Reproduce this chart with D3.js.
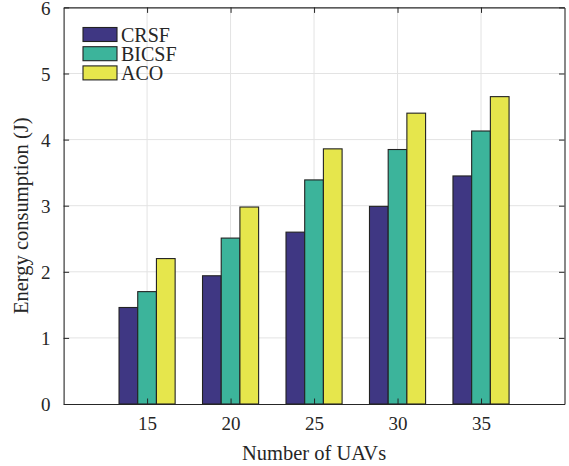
<!DOCTYPE html>
<html>
<head>
<meta charset="utf-8">
<script src="https://cdn.jsdelivr.net/npm/d3@7"></script>
<style>
  html, body { margin: 0; padding: 0; background: #fff; }
  svg { display: block; }
  text { font-family: "Liberation Serif", "Times New Roman", serif; fill: #262626; }
</style>
</head>
<body>
<svg id="chart" width="569" height="466"></svg>
<script>
const categories = [15, 20, 25, 30, 35];
const seriesNames = ["CRSF", "BICSF", "ACO"];
const crsf  = [1.46, 1.94, 2.60, 2.99, 3.45];
const bicsf = [1.70, 2.51, 3.39, 3.85, 4.13];
const aco   = [2.20, 2.98, 3.86, 4.40, 4.65];
const colors = ["#3F3783", "#3CB49B", "#E6E64C"];
const yTicks = [0, 1, 2, 3, 4, 5, 6];
const xTicks = [15, 20, 25, 30, 35];
const xLabel = "Number of UAVs";
const yLabel = "Energy consumption (J)";

const series = [crsf, bicsf, aco];
const svg = d3.select("#chart");
const pLeft = 63.6, pRight = 564.5, pTop = 7.4, pBottom = 404;

const x = d3.scaleLinear().domain([10, 40]).range([pLeft, pRight]);
const y = d3.scaleLinear().domain([0, 6]).range([pBottom, pTop]);
const groupWidth = 3.36; // in x units
const barW = groupWidth / 3;

// grid
const grid = svg.append("g");
grid.selectAll("line.h").data(yTicks.slice(1, -1)).enter().append("line")
  .attr("x1", pLeft).attr("x2", pRight)
  .attr("y1", d => y(d)).attr("y2", d => y(d))
  .attr("stroke", "#E3E3E3").attr("stroke-width", 1);
grid.selectAll("line.v").data(xTicks).enter().append("line")
  .attr("y1", pTop).attr("y2", pBottom)
  .attr("x1", d => x(d)).attr("x2", d => x(d))
  .attr("stroke", "#E3E3E3").attr("stroke-width", 1);

// bars
series.forEach((vals, si) => {
  svg.append("g").selectAll("rect").data(vals).enter().append("rect")
    .attr("x", (d, i) => x(categories[i] - groupWidth / 2 + si * barW))
    .attr("width", x(barW) - x(0))
    .attr("y", d => y(d))
    .attr("height", d => y(0) - y(d))
    .attr("fill", colors[si])
    .attr("stroke", "#222")
    .attr("stroke-width", 1.1);
});

// axes with inward ticks
const axisColor = "#262626";
const tickLen = 5.5;
const gB = svg.append("g").attr("transform", `translate(0,${pBottom})`)
  .call(d3.axisBottom(x).tickValues(xTicks).tickSize(-tickLen).tickPadding(13).tickSizeOuter(0));
const gT = svg.append("g").attr("transform", `translate(0,${pTop})`)
  .call(d3.axisTop(x).tickValues(xTicks).tickSize(-tickLen).tickFormat("").tickSizeOuter(0));
const gL = svg.append("g").attr("transform", `translate(${pLeft},0)`)
  .call(d3.axisLeft(y).tickValues(yTicks).tickFormat(d3.format("d")).tickSize(-tickLen).tickPadding(13).tickSizeOuter(0));
const gR = svg.append("g").attr("transform", `translate(${pRight},0)`)
  .call(d3.axisRight(y).tickValues(yTicks).tickSize(-tickLen).tickFormat("").tickSizeOuter(0));
[gB, gT, gL, gR].forEach(g => {
  g.select(".domain").attr("stroke", axisColor).attr("stroke-width", 1.1);
  g.selectAll(".tick line").attr("stroke", axisColor).attr("stroke-width", 1);
  g.selectAll(".tick text").attr("fill", axisColor)
    .style("font-family", '"Liberation Serif", "Times New Roman", serif')
    .style("font-size", "19px");
});
gB.selectAll(".tick text").attr("dy", "0.71em");
gL.selectAll(".tick text").attr("dy", "0.35em");

// axis labels
svg.append("text")
  .attr("x", (pLeft + pRight) / 2).attr("y", 460)
  .attr("text-anchor", "middle")
  .style("font-size", "20.5px")
  .text(xLabel);
svg.append("text")
  .attr("transform", `translate(28,${(pTop + pBottom) / 2 + 10}) rotate(-90)`)
  .attr("text-anchor", "middle")
  .style("font-size", "20.5px")
  .text(yLabel);

// legend
const lg = svg.append("g");
seriesNames.forEach((name, i) => {
  const yy = 27.5 + i * 19.2;
  lg.append("rect").attr("x", 83).attr("y", yy).attr("width", 34).attr("height", 14)
    .attr("fill", colors[i]).attr("stroke", "#222").attr("stroke-width", 1.1);
  lg.append("text").attr("x", 121).attr("y", yy + 14)
    .style("font-size", "20px").text(name);
});
</script>
</body>
</html>
